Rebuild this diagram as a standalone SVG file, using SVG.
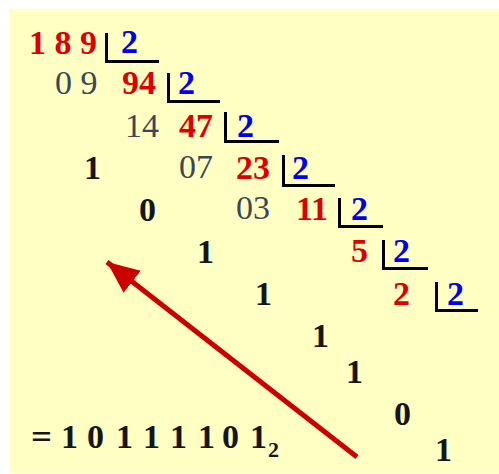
<svg xmlns="http://www.w3.org/2000/svg" width="499" height="474" viewBox="0 0 499 474">
<style>
text{font-family:"Liberation Serif","Times New Roman",serif;font-size:34px}
.r{fill:#DD0000;font-weight:bold}
.b{fill:#0000EE;font-weight:bold}
.g{fill:#3C4656}
.k{fill:#151515;font-weight:bold}
.br{fill:none;stroke:#000;stroke-width:3}
</style>
<defs>
<marker id="ah" markerUnits="userSpaceOnUse" markerWidth="34" markerHeight="28" refX="32" refY="14" orient="auto">
<path d="M0,0 L32,14 L0,28 Z" fill="#CC0000"/>
</marker>
</defs>
<rect width="499" height="474" fill="#fff"/>
<rect x="10" y="9" width="489" height="464" fill="#FFFFC4"/>
<g id="brackets">
<path class="br" d="M106.5,33 V61.5 H159"/>
<path class="br" d="M168.5,73 V101.5 H220"/>
<path class="br" d="M225.5,112 V141.5 H279"/>
<path class="br" d="M283.5,155 V185.5 H335"/>
<path class="br" d="M339.5,198 V226.5 H383"/>
<path class="br" d="M383.5,240 V268.5 H428"/>
<path class="br" d="M436.5,282 V310.5 H478"/>
</g>
<g id="dividends">
<text class="r" x="29" y="54">1 8 9</text>
<text class="r" x="122" y="94">94</text>
<text class="r" x="179" y="137">47</text>
<text class="r" x="236" y="179">23</text>
<text class="r" x="296" y="220">11</text>
<text class="r" x="351" y="262">5</text>
<text class="r" x="393" y="305">2</text>
</g>
<g id="divisors">
<text class="b" x="121" y="53">2</text>
<text class="b" x="178" y="94">2</text>
<text class="b" x="237" y="137">2</text>
<text class="b" x="292" y="179">2</text>
<text class="b" x="351" y="220">2</text>
<text class="b" x="393" y="262">2</text>
<text class="b" x="447" y="305">2</text>
</g>
<g id="partials">
<text class="g" x="55" y="94">0 9</text>
<text class="g" x="125" y="137">14</text>
<text class="g" x="179" y="178">07</text>
<text class="g" x="236" y="219">03</text>
</g>
<g id="remainders">
<text class="k" x="84" y="179">1</text>
<text class="k" x="139" y="221">0</text>
<text class="k" x="197" y="263">1</text>
<text class="k" x="255" y="305">1</text>
<text class="k" x="312" y="347">1</text>
<text class="k" x="346" y="383">1</text>
<text class="k" x="394" y="425">0</text>
<text class="k" x="435" y="461">1</text>
</g>
<g id="result">
<text class="k" x="31" y="448" textLength="21" lengthAdjust="spacingAndGlyphs">=</text>
<text class="k" x="61 87 116 143 170 198 222 250" y="448">10111101</text>
<text class="k" x="268" y="457" style="font-size:22px">2</text>
</g>
<g id="connectors">
<line x1="357" y1="457" x2="107" y2="262" stroke="#CC0000" stroke-width="5" marker-end="url(#ah)"/>
</g>
</svg>
